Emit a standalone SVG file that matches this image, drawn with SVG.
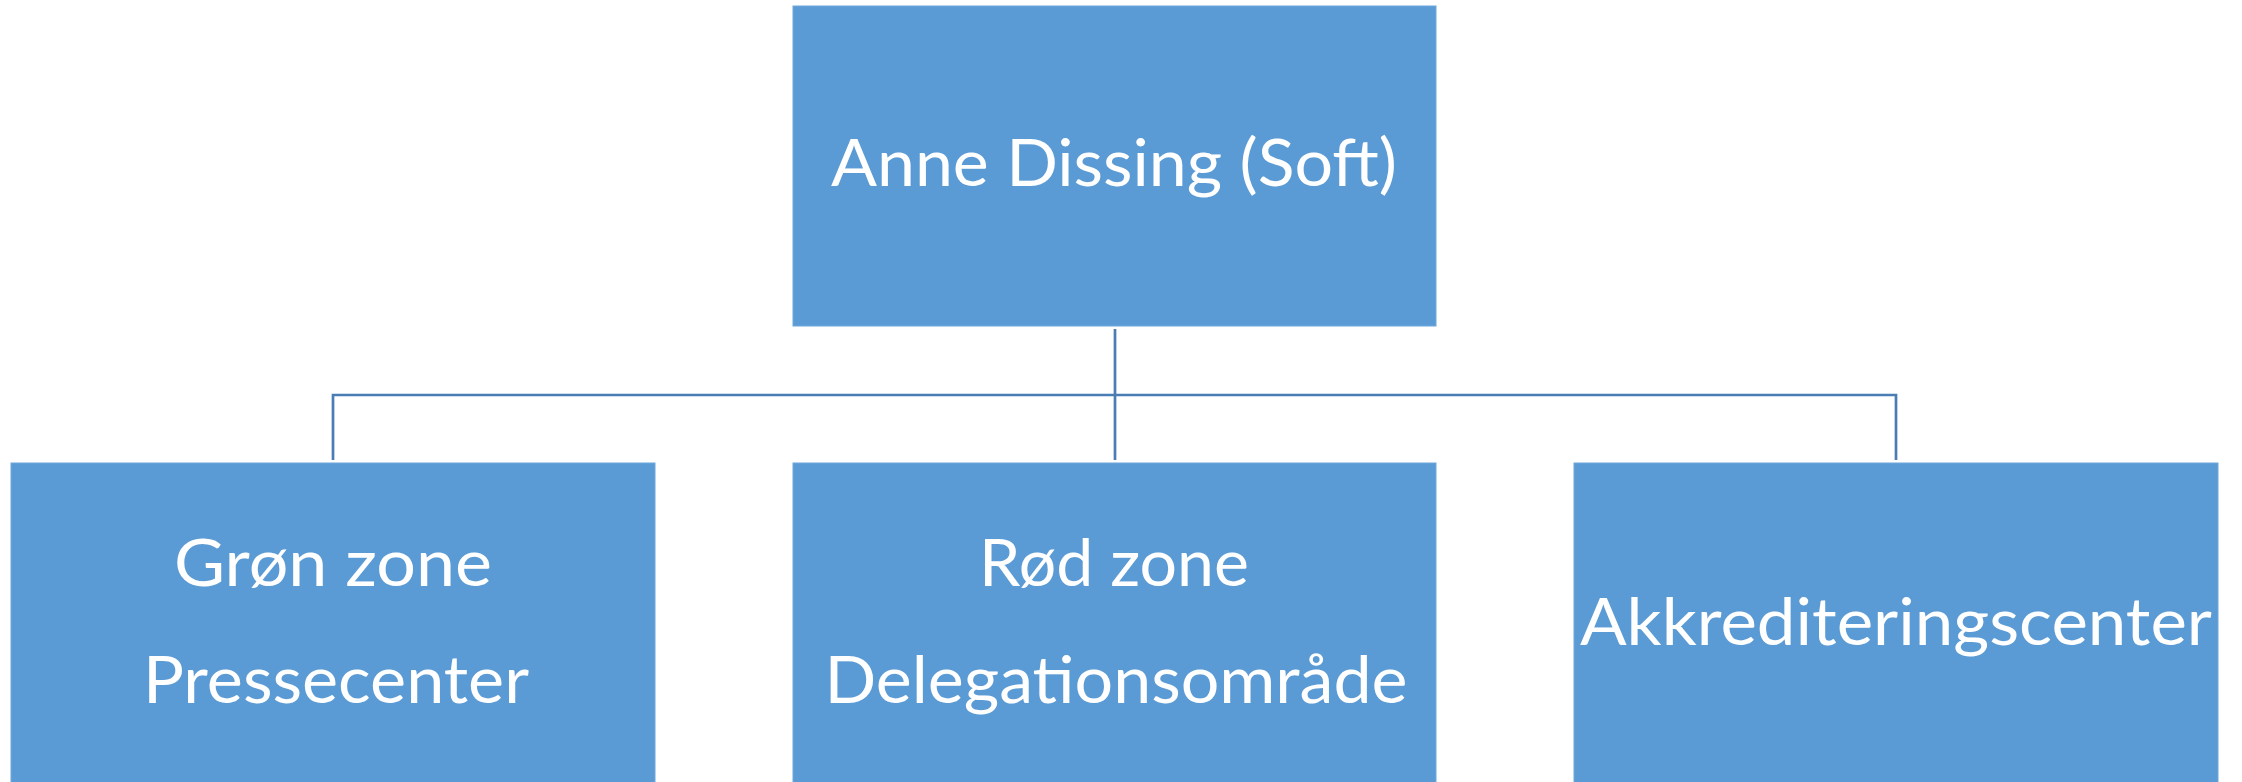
<svg xmlns="http://www.w3.org/2000/svg" width="2242" height="782" viewBox="0 0 2242 782">
<style>
.box{fill:#5b9bd5;stroke:#6fa8dc;stroke-width:1}
.lbl{font-family:Lato,"Open Sans","Liberation Sans",sans-serif;font-size:66px;fill:#ffffff;text-anchor:middle}
.conn{fill:none;stroke:#4a7db3;stroke-width:2.7}
</style>
<rect width="2242" height="782" fill="#ffffff"/>
<g id="connectors">
<path class="conn" d="M1115 329 V460"/>
<path class="conn" d="M333 460 V395 H1896 V460"/>
</g>
<g id="node-top">
<rect class="box" x="793" y="6" width="643" height="320"/>
<text class="lbl" x="1114" y="186" textLength="566" lengthAdjust="spacingAndGlyphs">Anne Dissing (Soft)</text>
</g>
<g id="node-green">
<rect class="box" x="11" y="463" width="644" height="322"/>
<text class="lbl" x="333" y="586" textLength="318" lengthAdjust="spacingAndGlyphs">Grøn zone</text>
<text class="lbl" x="336" y="703" textLength="386" lengthAdjust="spacingAndGlyphs">Pressecenter</text>
</g>
<g id="node-red">
<rect class="box" x="793" y="463" width="643" height="322"/>
<text class="lbl" x="1114" y="586" textLength="270" lengthAdjust="spacingAndGlyphs">Rød zone</text>
<text class="lbl" x="1116" y="703" textLength="583" lengthAdjust="spacingAndGlyphs">Delegationsområde</text>
</g>
<g id="node-accred">
<rect class="box" x="1574" y="463" width="644" height="322"/>
<text class="lbl" x="1896" y="645" textLength="632" lengthAdjust="spacingAndGlyphs">Akkrediteringscenter</text>
</g>
</svg>
